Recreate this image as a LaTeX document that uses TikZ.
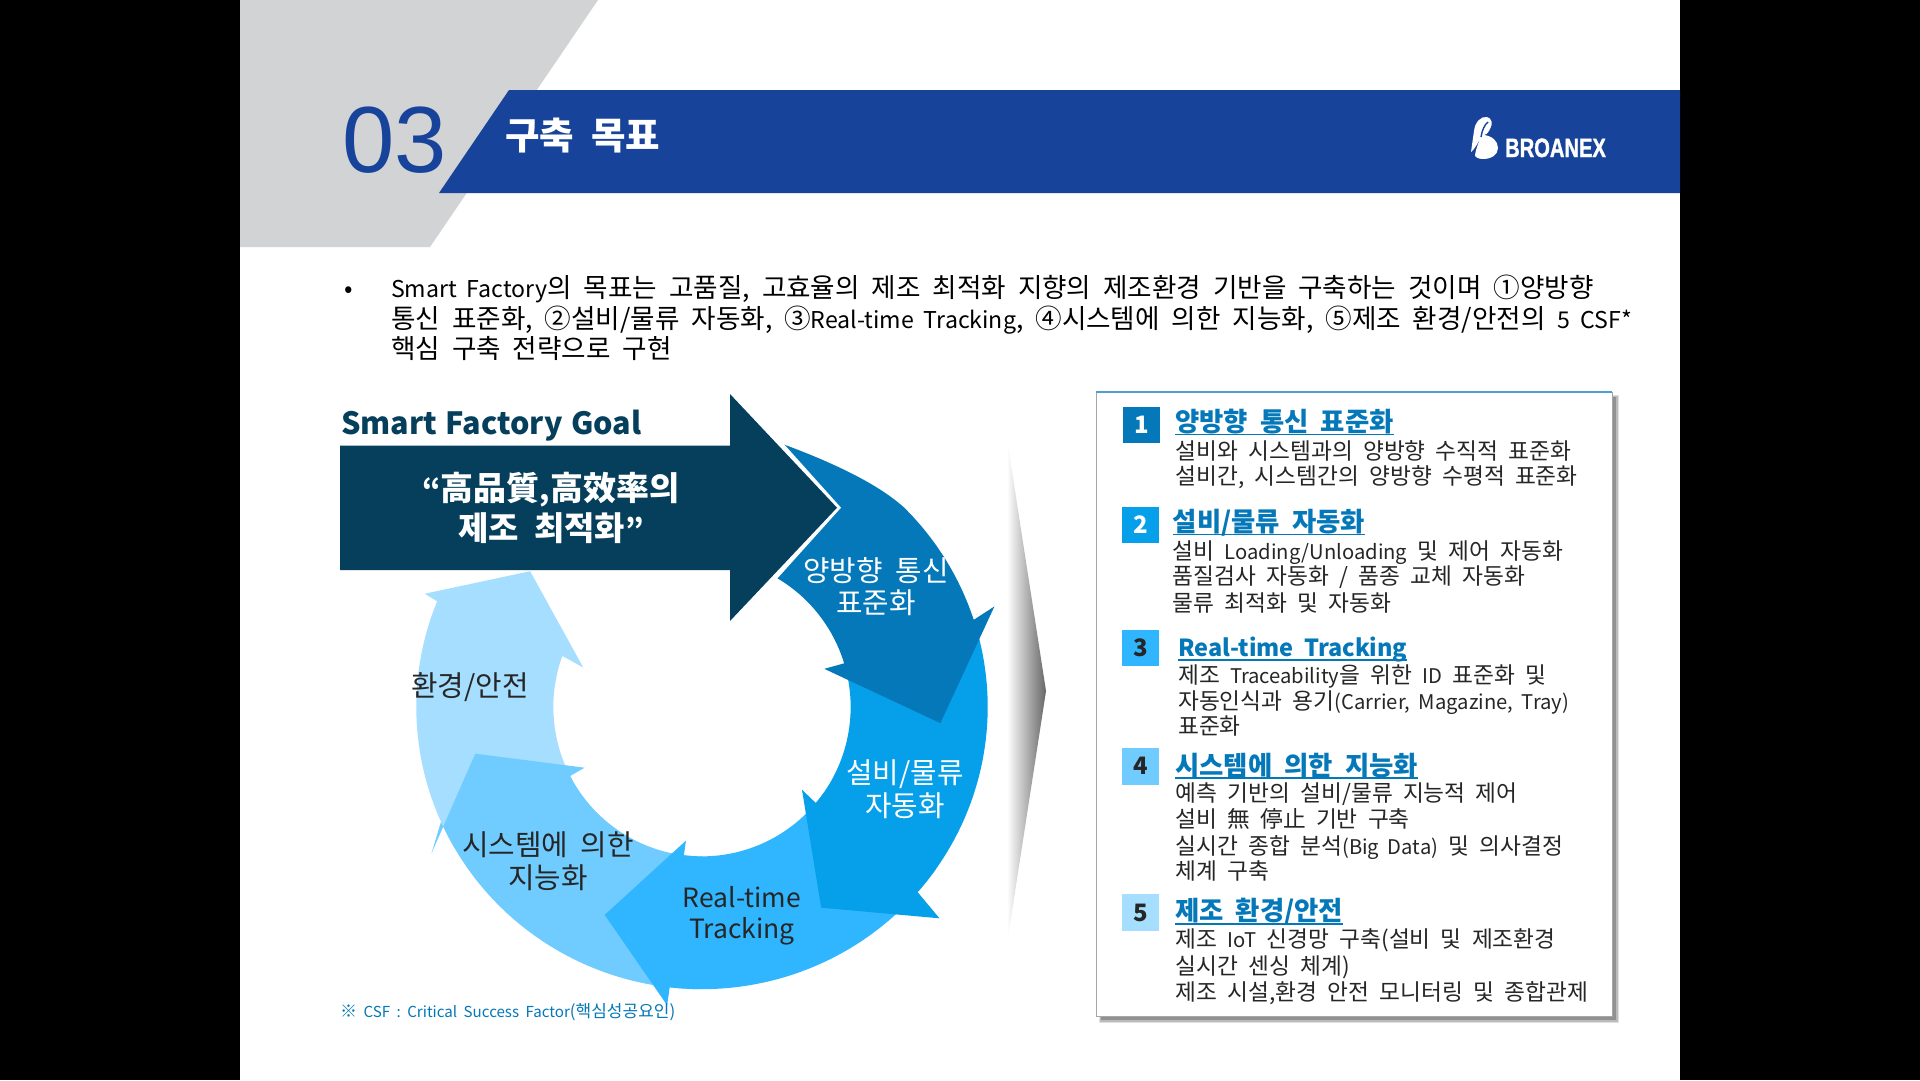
\documentclass[tikz,border=0pt]{standalone}
\usepackage{fontspec}
\setmainfont{Noto Sans CJK KR}[WordSpace=2.0]
\newfontfamily\latf{Noto Sans CJK KR}[Scale=0.89,WordSpace=1.9]
\newfontfamily\latp{Noto Sans CJK KR}[Scale=0.87,WordSpace=1.9]
\newfontfamily\latg{Noto Sans CJK KR}[WordSpace=1.2]
\newfontfamily\arialf{Liberation Sans}
\newfontfamily\logof{Liberation Sans}[BoldFeatures={FakeBold=1.5}]
\definecolor{barblue}{HTML}{17449A}
\definecolor{greyp}{HTML}{D1D3D4}
\definecolor{ra}{HTML}{0478B8}
\definecolor{rb}{HTML}{069FEA}
\definecolor{rc}{HTML}{30B6FF}
\definecolor{rd}{HTML}{70CCFF}
\definecolor{re}{HTML}{A6DEFF}
\definecolor{navy}{HTML}{053F5C}
\definecolor{txt}{HTML}{262626}
\definecolor{chev}{HTML}{666666}
\newcommand{\ulh}[1]{\setbox0\hbox{#1}\rlap{\rule[-3.8pt]{\wd0}{1.6pt}}\box0}
\newcommand{\lt}[1]{{\latf #1}}
\newcommand{\lp}[1]{{\latp #1}}
\tikzset{
  ln/.style={anchor=base west,inner sep=0pt,text=txt,font=\fontsize{22.7}{26}\selectfont},
  hd/.style={anchor=base west,inner sep=0pt,text=ra,font=\fontsize{26.4}{30}\selectfont\bfseries},
  para/.style={anchor=base west,inner sep=0pt,text=black,font=\fontsize{26.6}{30}\selectfont},
  lab/.style={anchor=base,inner sep=0pt,font=\fontsize{28.8}{32}\selectfont},
  num/.style={minimum width=36.5pt,minimum height=36.5pt,inner sep=0pt,font=\fontsize{24}{28}\selectfont\bfseries,anchor=north west},
}
\begin{document}
\begin{tikzpicture}[x=1pt,y=-1pt]
\useasboundingbox (0,0) rectangle (1920,1080);
\fill[black] (0,0) rectangle (1920,1080);
\fill[white] (240,0) rectangle (1680,1080);
% header
\fill[greyp] (240,0) -- (598,0) -- (430,247) -- (240,247) -- cycle;
\fill[barblue] (509,90) -- (1680,90) -- (1680,193) -- (439,193) -- cycle;
\node[anchor=base west,inner sep=0pt,text=barblue,font=\arialf\fontsize{94}{100}\selectfont] (num03) at (342,172) {03};
\node[anchor=base west,inner sep=0pt,text=white,font=\fontsize{37.5}{40}\selectfont\bfseries] (title) at (505,149) {구축 목표};
% logo
\fill[white] (1474,131) .. controls (1475,122) and (1481,116) .. (1487,117) .. controls (1492,118) and (1493,124) .. (1490,129)
  .. controls (1488,133) and (1486,135) .. (1484,135) .. controls (1492,136) and (1498,141) .. (1498,148)
  .. controls (1498,155) and (1491,159) .. (1483,159) .. controls (1478,159) and (1475,157) .. (1475,155)
  .. controls (1476,148) and (1479,142) .. (1481,137) .. controls (1478,143) and (1474,150) .. (1471,152)
  .. controls (1472,145) and (1473,138) .. (1474,131) -- cycle;
\draw[barblue,line width=1.4pt] (1481,137) .. controls (1482,130) and (1485,124) .. (1488,122);
\node[anchor=base west,inner sep=0pt,text=white,xscale=0.76,font=\logof\fontsize{26.5}{28}\selectfont\bfseries] (logo) at (1505,157) {BROANEX};
% paragraph
\node[anchor=base,inner sep=0pt,font=\fontsize{25}{30}\selectfont] (bul) at (349,297) {•};
\node[para] (p1) at (391,297) {\lp{Smart Factory}의 목표는 고품질, 고효율의 제조 최적화 지향의 제조환경 기반을 구축하는 것이며 ①양방향};
\node[para] (p2) at (391,328) {통신 표준화, ②설비/물류 자동화, ③\lp{Real-time Tracking}, ④시스템에 의한 지능화, ⑤제조 환경/안전의 \lp{5 CSF*}};
\node[para] (p3) at (391,358) {핵심 구축 전략으로 구현};
% ring
\begin{scope}[shift={(702,707)},x=0.4464pt,y=0.4243pt]
\fill[re] (-150:640 and 665) arc[start angle=-150,end angle=-202,x radius=640,y radius=665]
  -- (-621,267) -- (-385,320) -- (-266,93) -- (160:333 and 352)
  arc[start angle=160,end angle=210,x radius=333,y radius=352] -- cycle;
\fill[rd] (-90:640 and 665) arc[start angle=-90,end angle=-156,x radius=640,y radius=665]
  -- (-606,-345) -- (-508,-110) -- (-263,-143) -- (-152.5:333 and 352)
  arc[start angle=-152.5,end angle=-90,x radius=333,y radius=352] -- cycle;
\fill[rc] (-35:640 and 665) arc[start angle=-35,end angle=-96.5,x radius=640,y radius=665]
  -- (-78,-703) -- (-218,-490) -- (-36,-315) -- (-97:333 and 352)
  arc[start angle=-97,end angle=-35,x radius=333,y radius=352] -- cycle;
\fill[rb] (18:640 and 665) arc[start angle=18,end angle=-41,x radius=640,y radius=665]
  -- (532,-498) -- (267,-473) -- (224,-195) -- (-40:333 and 352)
  arc[start angle=-40,end angle=17,x radius=333,y radius=352] -- cycle;
\fill[ra] (175,622) .. controls (310,570) and (400,520) .. (45:640 and 665) arc[start angle=45,end angle=18,x radius=640,y radius=665]
  -- (655,237) -- (534,-38) -- (274,90) -- (17:333 and 352)
  arc[start angle=17,end angle=60,x radius=333,y radius=352] -- cycle;
\end{scope}
% big arrow
\fill[white] (730,384) -- (841,507.7) -- (730,631) -- cycle;
\fill[navy] (340,445.6) -- (730,445.6) -- (730,394) -- (837,507.7) -- (730,621) -- (730,570) -- (340,570) -- cycle;
% labels
\node[anchor=base west,inner sep=0pt,text=navy,font=\latg\fontsize{30.6}{36}\selectfont\bfseries] (goal) at (341,434) {Smart Factory Goal};
\node[anchor=base,inner sep=0pt,text=white,font=\fontsize{33}{38}\selectfont\bfseries] (g1) at (551,500) {\lt{“}高品質\lt{,}高效率의};
\node[anchor=base,inner sep=0pt,text=white,font=\fontsize{33}{38}\selectfont\bfseries] (g2) at (551,540) {제조 최적화\lt{”}};
\node[lab,text=white] (a1) at (876,581) {양방향 통신};
\node[lab,text=white] (a2) at (876,613.5) {표준화};
\node[lab,text=white] (b1) at (905,783) {설비/물류};
\node[lab,text=white] (b2) at (905,816) {자동화};
\node[lab,text=txt,font=\fontsize{26.5}{32}\selectfont] (c1) at (742,907) {Real-time};
\node[lab,text=txt,font=\fontsize{26.5}{32}\selectfont] (c2) at (742,938) {Tracking};
\node[lab,text=txt] (d1) at (548,855) {시스템에 의한};
\node[lab,text=txt] (d2) at (548,888) {지능화};
\node[lab,text=txt] (e1) at (470,696) {환경/안전};
\node[anchor=base west,inner sep=0pt,text=ra,font=\fontsize{17}{20}\selectfont] (foot) at (340,1017) {※\lt{ CSF : Critical Success Factor}(핵심성공요인)};
% chevron
\shade[left color=white,right color=chev] (1007,439) -- (1046,691) -- (1007,944) -- cycle;
% panel
\fill[black,opacity=0.12] (1099,395) rectangle (1619,1023);
\fill[black,opacity=0.16] (1100,396) rectangle (1617.5,1021.5);
\fill[black,opacity=0.22] (1101,397) rectangle (1616,1020);
\fill[white,draw=black!35,line width=1pt] (1096,392) rectangle (1612,1016);
\draw[color=ra!70!white,line width=1.4pt] (1096,392) -- (1612,392);
\node[num,fill=ra,text=white] (n1) at (1123,406.3) {1};
\node[num,fill=rb,text=white] (n2) at (1122,506.3) {2};
\node[num,fill=rc,text=txt] (n3) at (1122,629.3) {3};
\node[num,fill=rd,text=txt] (n4) at (1122,747.8) {4};
\node[num,fill=re,text=txt] (n5) at (1122,894.2) {5};
\node[hd] (h1) at (1175,431.5) {\ulh{양방향 통신 표준화}};
\node[ln] (t11) at (1175.5,459) {설비와 시스템과의 양방향 수직적 표준화};
\node[ln] (t12) at (1175.5,484.7) {설비간, 시스템간의 양방향 수평적 표준화};
\node[hd] (h2) at (1172.7,531.3) {\ulh{설비/물류 자동화}};
\node[ln] (t21) at (1172.7,559.2) {설비 \lt{Loading/Unloading} 및 제어 자동화};
\node[ln] (t22) at (1172.7,584.9) {품질검사 자동화 / 품종 교체 자동화};
\node[ln] (t23) at (1172.7,611) {물류 최적화 및 자동화};
\node[hd] (h3) at (1178,656.8) {\ulh{\lt{Real-time Tracking}}};
\node[ln] (t31) at (1178,683) {제조 \lt{Traceability}을 위한 \lt{ID} 표준화 및};
\node[ln] (t32) at (1178,709.5) {자동인식과 용기\lt{(Carrier, Magazine, Tray)}};
\node[ln] (t33) at (1178,734.8) {표준화};
\node[hd] (h4) at (1175,775.1) {\ulh{시스템에 의한 지능화}};
\node[ln] (t41) at (1175.5,801.3) {예측 기반의 설비/물류 지능적 제어};
\node[ln] (t42) at (1175.5,827.9) {설비 無 停止 기반 구축};
\node[ln] (t43) at (1175.5,854) {실시간 종합 분석\lt{(Big Data)} 및 의사결정};
\node[ln] (t44) at (1175.5,879.7) {체계 구축};
\node[hd] (h5) at (1175,920.8) {\ulh{제조 환경/안전}};
\node[ln] (t51) at (1175.5,947.9) {제조 \lt{IoT} 신경망 구축(설비 및 제조환경};
\node[ln] (t52) at (1175.5,974.4) {실시간 센싱 체계)};
\node[ln] (t53) at (1175.5,1000.9) {제조 시설,환경 안전 모니터링 및 종합관제};
\end{tikzpicture}
\end{document}
